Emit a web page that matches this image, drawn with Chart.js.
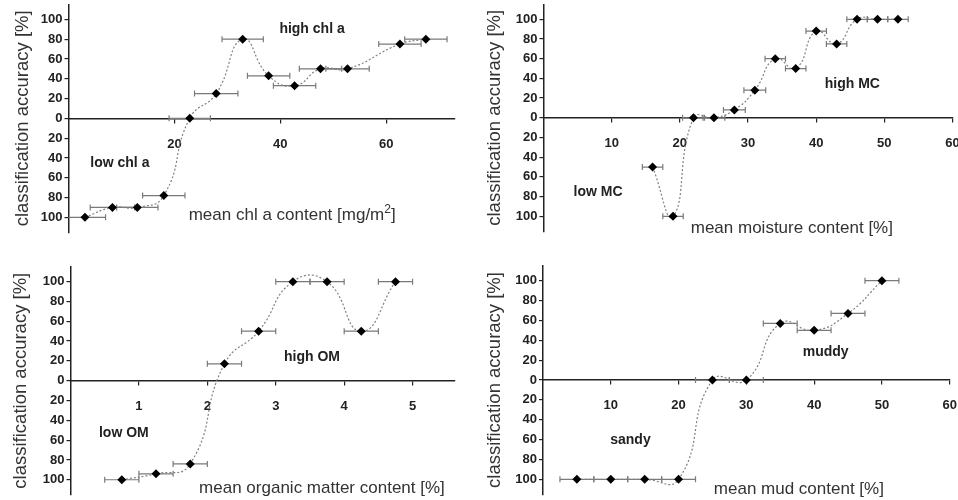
<!DOCTYPE html>
<html>
<head>
<meta charset="utf-8">
<script src="https://cdn.jsdelivr.net/npm/chart.js@4.4.1/dist/chart.umd.min.js"></script>
<style>
  html, body { margin: 0; background: #fff; }
  #wrap { position: relative; width: 958px; height: 500px; }
  .p { position: absolute; width: 479px; height: 250px; }
</style>
</head>
<body>
<div id="wrap">
  <div class="p" style="left:0;top:0"><canvas id="c1"></canvas></div>
  <div class="p" style="left:479px;top:0"><canvas id="c2"></canvas></div>
  <div class="p" style="left:0;top:250px"><canvas id="c3"></canvas></div>
  <div class="p" style="left:479px;top:250px"><canvas id="c4"></canvas></div>
</div>
<script>
// classification accuracy (negative = "low" class)
const yTicks = [-100, -80, -60, -40, -20, 0, 20, 40, 60, 80, 100];

// chlorophyll a
const chlX = [3.1, 8.3, 13.0, 18.0, 22.9, 27.9, 32.9, 37.8, 42.7, 47.6, 52.7, 62.6, 67.5];
const chlY = [-100, -90, -90, -78, 0, 25, 80, 43, 33, 50, 50, 75, 80];
const chlErr = [3.9, 4.2, 3.9, 4.0, 3.9, 4.1, 3.9, 4.0, 4.0, 4.0, 4.1, 4.0, 4.0];
const chlTicks = [20, 40, 60];

// moisture content
const mcX = [16, 19, 22, 25, 28, 31, 34, 37, 40, 43, 46, 49, 52];
const mcY = [-50, -100, 0, 0, 8, 28, 60, 50, 88, 75, 100, 100, 100];
const mcErr = [1.5, 1.5, 1.6, 1.6, 1.6, 1.6, 1.5, 1.5, 1.5, 1.5, 1.5, 1.5, 1.5];
const mcTicks = [10, 20, 30, 40, 50, 60];

// organic matter
const omX = [0.75, 1.25, 1.75, 2.25, 2.75, 3.25, 3.75, 4.25, 4.75];
const omY = [-100, -94, -84, 17, 50, 100, 100, 50, 100];
const omErr = [0.25, 0.25, 0.25, 0.25, 0.25, 0.25, 0.25, 0.25, 0.25];
const omTicks = [1, 2, 3, 4, 5];

// mud content
const mudX = [5, 10, 15, 20, 25, 30, 35, 40, 45, 50];
const mudY = [-100, -100, -100, -100, 0, 0, 57, 50, 67, 100];
const mudErr = [2.5, 2.5, 2.5, 2.5, 2.5, 2.5, 2.5, 2.5, 2.5, 2.5];
const mudTicks = [10, 20, 30, 40, 50, 60];

const FAM = '"Liberation Sans", Arial, sans-serif';
const INK = '#222';

function makePanel(id, p) {
  const notes = {
    id: 'notes',
    beforeDatasetsDraw(chart) {
      // horizontal error bars
      const { ctx, chartArea: a, scales: { x, y } } = chart;
      ctx.save();
      ctx.beginPath(); ctx.rect(a.left, a.top, a.right - a.left, a.bottom - a.top); ctx.clip();
      ctx.strokeStyle = '#7a7a7a'; ctx.lineWidth = 1.2;
      p.xs.forEach((xv, i) => {
        const py = y.getPixelForValue(p.ys[i]);
        const x1 = x.getPixelForValue(xv - p.err[i]), x2 = x.getPixelForValue(xv + p.err[i]);
        ctx.beginPath();
        ctx.moveTo(x1, py); ctx.lineTo(x2, py);
        ctx.moveTo(x1, py - 3); ctx.lineTo(x1, py + 3);
        ctx.moveTo(x2, py - 3); ctx.lineTo(x2, py + 3);
        ctx.stroke();
      });
      ctx.restore();
    },
    afterDraw(chart) {
      const { ctx, scales: { x, y } } = chart;
      ctx.save();
      ctx.fillStyle = INK; ctx.textAlign = 'center'; ctx.textBaseline = 'middle';
      ctx.font = 'bold 14px ' + FAM;
      p.labels.forEach((l) => ctx.fillText(l.text, x.getPixelForValue(l.x), y.getPixelForValue(l.y)));
      // x axis caption, placed inside the plot
      ctx.fillStyle = '#333'; ctx.textAlign = 'left';
      let cx = x.getPixelForValue(p.cap.x);
      const cy = y.getPixelForValue(p.cap.y);
      p.cap.parts.forEach((s) => {
        ctx.font = (s.sup ? '12px ' : '17px ') + FAM;
        ctx.fillText(s.t, cx, s.sup ? cy - 6 : cy);
        cx += ctx.measureText(s.t).width;
      });
      ctx.restore();
    }
  };

  return new Chart(document.getElementById(id), {
    type: 'line',
    data: {
      datasets: [{
        data: p.xs.map((v, i) => ({ x: v, y: p.ys[i] })),
        borderColor: '#808080', borderWidth: 1.2, borderDash: [2, 2],
        tension: 0.5, fill: false,
        pointStyle: 'rectRot', pointRadius: 4.5, pointBackgroundColor: '#000', pointBorderWidth: 0
      }]
    },
    options: {
      responsive: true, maintainAspectRatio: false, animation: false, devicePixelRatio: 1,
      layout: { padding: p.pad },
      plugins: { legend: { display: false }, tooltip: { enabled: false } },
      scales: {
        x: {
          type: 'linear', min: 0, max: p.xMax, position: { y: 0 },
          afterBuildTicks: (s) => { s.ticks = p.xt.map((v) => ({ value: v })); },
          afterFit: (s) => { s.paddingLeft = 0; s.paddingRight = 0; },
          ticks: { color: INK, font: { family: FAM, size: 13, weight: 'bold', lineHeight: 2.9 }, maxRotation: 0 },
          grid: { drawOnChartArea: false, drawTicks: true, tickLength: 4, color: INK, lineWidth: 1.2 },
          border: { display: true, color: INK, width: 1.5 }
        },
        y: {
          type: 'linear', min: -115, max: 115,
          afterBuildTicks: (s) => { s.ticks = yTicks.map((v) => ({ value: v })); },
          afterFit: (s) => { s.width = p.yw; s.paddingTop = 0; s.paddingBottom = 0; },
          ticks: { color: INK, padding: 2, font: { family: FAM, size: 13, weight: 'bold' }, callback: (v) => Math.abs(v) },
          grid: { drawOnChartArea: false, drawTicks: true, tickLength: 4, color: INK, lineWidth: 1.2 },
          border: { display: true, color: INK, width: 1.5 },
          title: { display: true, text: 'classification accuracy [%]', color: '#333',
                   font: { family: FAM, size: 18.5 }, padding: { top: p.tp, bottom: 0 } }
        }
      }
    },
    plugins: [notes]
  });
}

makePanel('c1', {
  xs: chlX, ys: chlY, err: chlErr, xt: chlTicks, xMax: 73, yw: 68.5, tp: 12,
  pad: { left: 0, right: 24, top: 4.5, bottom: 17.8 },
  labels: [{ text: 'high chl a', x: 46, y: 90 }, { text: 'low chl a', x: 9.7, y: -45.5 }],
  cap: { x: 22.7, y: -98, parts: [{ t: 'mean chl a content [mg/m' }, { t: '2', sup: true }, { t: ']' }] }
});
makePanel('c2', {
  xs: mcX, ys: mcY, err: mcErr, xt: mcTicks, xMax: 60, yw: 64.5, tp: 5,
  pad: { left: 0, right: 5.5, top: 3.5, bottom: 18.9 },
  labels: [{ text: 'high MC', x: 45.3, y: 34 }, { text: 'low MC', x: 8.0, y: -75 }],
  cap: { x: 21.6, y: -112, parts: [{ t: 'mean moisture content [%]' }] }
});
makePanel('c3', {
  xs: omX, ys: omY, err: omErr, xt: omTicks, xMax: 5.62, yw: 70.5, tp: 10,
  pad: { left: 0, right: 24, top: 16.8, bottom: 5.4 },
  labels: [{ text: 'high OM', x: 3.53, y: 24 }, { text: 'low OM', x: 0.78, y: -53 }],
  cap: { x: 1.88, y: -109, parts: [{ t: 'mean organic matter content [%]' }] }
});
makePanel('c4', {
  xs: mudX, ys: mudY, err: mudErr, xt: mudTicks, xMax: 60, yw: 64, tp: 5,
  pad: { left: 0, right: 8.3, top: 15.8, bottom: 5.8 },
  labels: [{ text: 'muddy', x: 41.7, y: 28 }, { text: 'sandy', x: 12.9, y: -61 }],
  cap: { x: 25.2, y: -110, parts: [{ t: 'mean mud content [%]' }] }
});
</script>
</body>
</html>
